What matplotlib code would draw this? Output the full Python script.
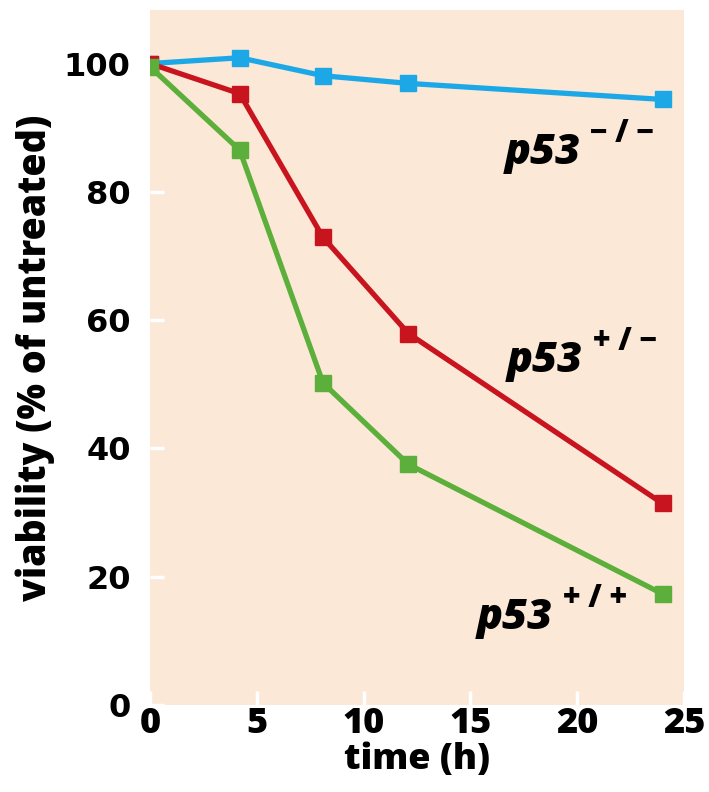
import matplotlib
matplotlib.use("Agg")
import matplotlib.pyplot as plt

time_h = [0, 4.2, 8.1, 12.1, 24]
p53_null = [100, 100.9, 98.1, 96.9, 94.4]
p53_het = [100, 95.3, 72.9, 57.9, 31.4]
p53_wt = [99.5, 86.5, 50.2, 37.5, 17.3]
x_ticks = [0, 5, 10, 15, 20, 25]
y_ticks = [0, 20, 40, 60, 80, 100]

FONT = "Open Sans"
W = 800
fig = plt.figure(figsize=(7.09, 7.92), dpi=100)
ax = fig.add_axes([0.2116, 0.110, 0.753, 0.877])
ax.set_facecolor("#FBE8D6")
for s in ax.spines.values():
    s.set_visible(False)

lw = 3.8
ms = 12
ax.plot(time_h, p53_null, color="#1CA8E6", lw=lw, marker="s", ms=ms, zorder=3)
ax.plot(time_h, p53_het, color="#C8141E", lw=lw, marker="s", ms=ms, zorder=4)
ax.plot(time_h, p53_wt, color="#5BAF3A", lw=lw, marker="s", ms=ms, zorder=5)

ax.set_xlim(0, 25)
ax.set_ylim(0, 108.3)
ax.set_xticks(x_ticks)
ax.set_yticks(y_ticks)
ax.set_xticklabels([str(v) for v in x_ticks], fontfamily=FONT, fontweight=W, fontsize=26)
ax.set_yticklabels([str(v) for v in y_ticks], fontfamily="DejaVu Sans", fontweight="bold", fontsize=23)
ax.tick_params(axis="both", direction="in", color="white", length=10, width=2.5)
ax.tick_params(axis="x", pad=1)
ax.tick_params(axis="y", pad=14)

ax.set_xlabel("time (h)", fontfamily=FONT, fontweight=W, fontsize=26, labelpad=0)
ax.set_ylabel("viability (% of untreated)", fontfamily=FONT, fontweight=W, fontsize=27, labelpad=6)

def label(x, y, sup):
    t = ax.text(x, y, "p53", fontfamily=FONT, fontweight=W, fontstyle="italic",
                fontsize=31, va="center", ha="left", zorder=6)
    ax.annotate(sup, xy=(1, 0.58), xycoords=t, xytext=(7, 0), textcoords="offset points",
                fontfamily=FONT, fontweight=W, fontsize=22, va="bottom", ha="left")

label(16.6, 86.0, "\u2212 / \u2212")
label(16.7, 53.6, "+ / \u2212")
label(15.3, 13.5, "+ / +")

fig.savefig("out.png", dpi=100)
